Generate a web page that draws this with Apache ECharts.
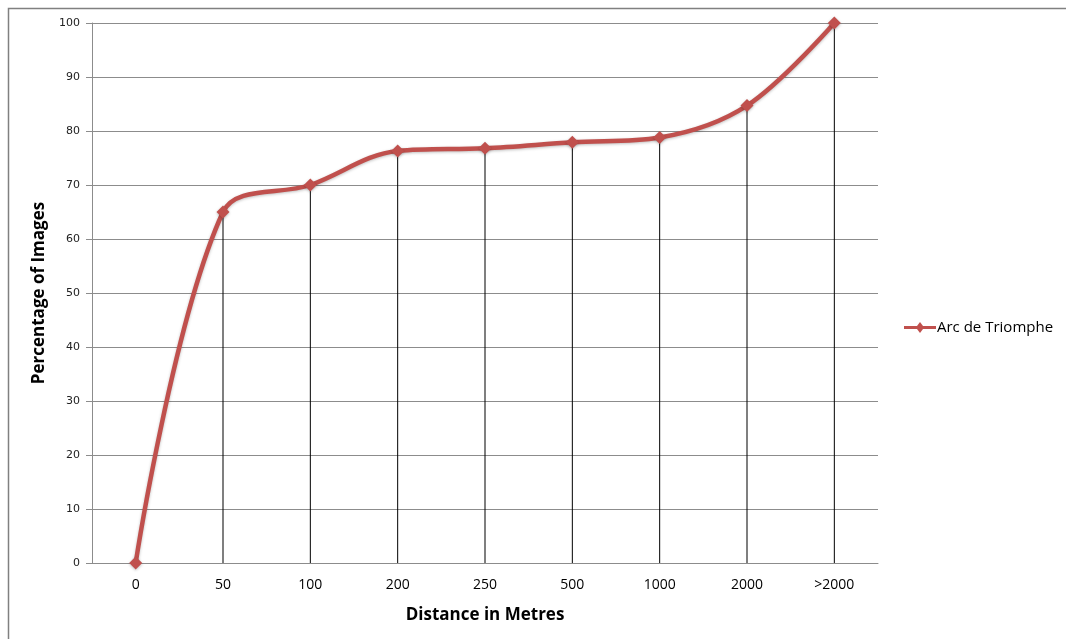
<!DOCTYPE html>
<html>
<head>
<meta charset="utf-8">
<script src="https://cdn.jsdelivr.net/npm/echarts@6/dist/echarts.min.js"></script>
<style>
html,body{margin:0;padding:0;background:#fff;}
#chart{width:1066px;height:639px;}
</style>
</head>
<body>
<div id="chart"></div>
<script>
const categories = ['0', '50', '100', '200', '250', '500', '1000', '2000', '>2000'];
const arcValues = [0, 65, 70, 76.3, 76.8, 77.9, 78.8, 84.7, 100];
const seriesName = 'Arc de Triomphe';
const xTitle = 'Distance in Metres';
const yTitle = 'Percentage of Images';

const chart = echarts.init(document.getElementById('chart'), null, {renderer: 'canvas'});
chart.setOption({
  animation: false,
  backgroundColor: '#fff',
  graphic: [{
    type: 'rect',
    shape: {x: 8.5, y: 8.5, width: 1070, height: 640},
    style: {fill: 'none', stroke: '#808080', lineWidth: 1.5},
    silent: true
  }],
  grid: {left: 92, right: 188, top: 23, bottom: 76},
  legend: {
    data: [{name: seriesName, icon: 'path://M0,4 L13,4 L16,0 L19,4 L32,4 L32,7 L19,7 L16,11 L13,7 L0,7 Z'}],
    left: 899, top: 315,
    itemWidth: 34, itemHeight: 11, itemGap: 2,
    textStyle: {fontFamily: 'Open Sans', fontSize: 15, color: '#000', padding: [0,0,0,-5]}
  },
  xAxis: {
    type: 'category',
    data: categories,
    boundaryGap: true,
    name: xTitle,
    nameLocation: 'middle',
    nameGap: 44,
    nameTextStyle: {fontFamily: 'Open Sans', fontWeight: 'bold', fontSize: 17, color: '#000'},
    axisLine: {lineStyle: {color: '#8c8c8c', width: 1}},
    axisTick: {show: false},
    axisLabel: {fontFamily: 'Open Sans', fontSize: 14, color: '#000', margin: 15}
  },
  yAxis: {
    type: 'value',
    min: 0, max: 100, interval: 10,
    name: yTitle,
    nameLocation: 'middle',
    nameGap: 40,
    nameTextStyle: {fontFamily: 'Open Sans', fontWeight: 'bold', fontSize: 17, color: '#000'},
    axisLine: {show: true, lineStyle: {color: '#8c8c8c', width: 1}},
    axisTick: {show: true, length: 6, lineStyle: {color: '#8c8c8c'}},
    axisLabel: {fontFamily: 'DejaVu Sans', fontSize: 11, color: '#222', margin: 12},
    splitLine: {lineStyle: {color: '#8c8c8c', width: 1}}
  },
  series: [{
    name: 'drop',
    type: 'bar',
    data: arcValues,
    barWidth: 1,
    itemStyle: {color: '#000'},
    silent: true,
    z: 1
  }, {
    name: seriesName,
    type: 'line',
    data: arcValues,
    smooth: 0.35,
    symbol: 'diamond',
    symbolSize: 13,
    lineStyle: {color: '#C0504D', width: 4.5, shadowColor: 'rgba(0,0,0,0.25)', shadowBlur: 3, shadowOffsetY: 1},
    itemStyle: {color: '#C0504D', shadowColor: 'rgba(0,0,0,0.25)', shadowBlur: 3, shadowOffsetY: 1},
    z: 3
  }]
});
</script>
</body>
</html>
